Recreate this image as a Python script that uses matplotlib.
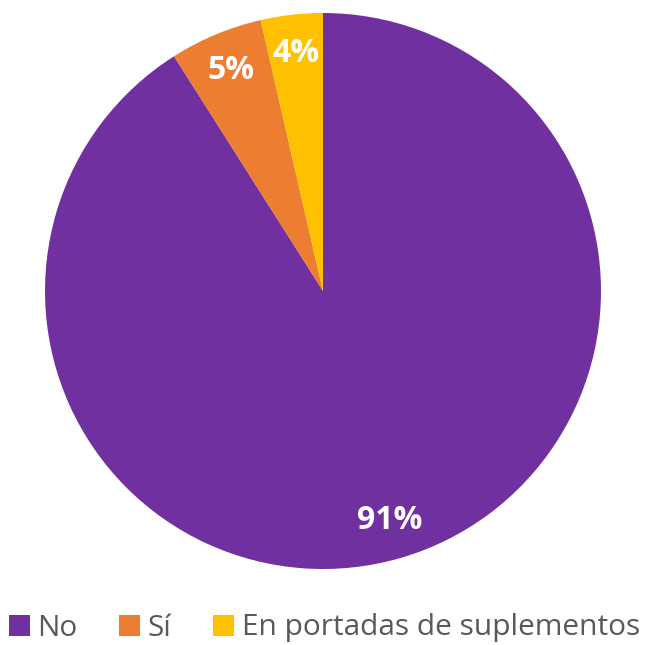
import matplotlib.pyplot as plt
from matplotlib.patches import Patch

categories = ["No", "Sí", "En portadas de suplementos"]
values = [91.0, 5.4, 3.6]
colors = ["#7030A0", "#ED7D31", "#FFC000"]

plt.rcParams['font.family'] = ['Open Sans', 'DejaVu Sans']

fig = plt.figure(figsize=(6.49, 6.45), dpi=100)
W, H = 649, 645
cx, cy, r = 323, 291, 278
ax = fig.add_axes([(cx - r) / W, (H - cy - r) / H, 2 * r / W, 2 * r / H])

wedges, texts, autotexts = ax.pie(
    values, colors=colors, startangle=90, counterclock=False,
    autopct="%.0f%%", pctdistance=0.86, radius=1,
    wedgeprops=dict(linewidth=0),
    textprops=dict(color="white", fontsize=23, fontweight="bold"))
ax.set_xlim(-1, 1)
ax.set_ylim(-1, 1)
ax.set_aspect("equal")
ax.axis("off")

handles = [Patch(facecolor=c, edgecolor="none") for c in colors]
fig.legend(handles, categories, loc="center", bbox_to_anchor=(0.5, 1 - 628 / H),
           ncol=3, frameon=False, fontsize=21.5, labelcolor="#595959",
           handlelength=0.7, handleheight=0.7, handletextpad=0.25,
           columnspacing=1.4, borderpad=0, borderaxespad=0)

fig.savefig("out.png", dpi=100)
